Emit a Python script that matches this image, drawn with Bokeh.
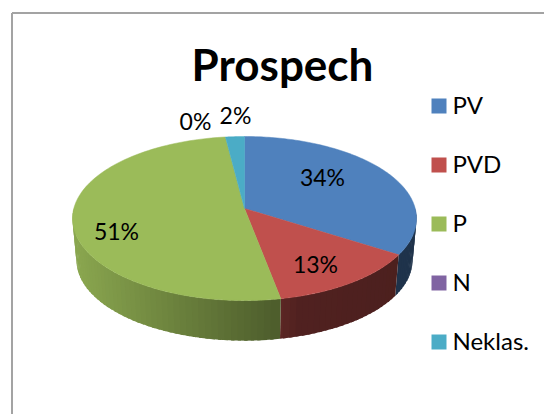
import numpy as np
from bokeh.plotting import figure
from bokeh.embed import file_html
from bokeh.resources import INLINE
from bokeh.core.properties import value as val

title = "Prospech"
categories = ["PV", "PVD", "P", "N", "Neklas."]
shares = [34, 13, 51, 0, 2]
colors = ["#4F81BD", "#C0504D", "#9BBB59", "#8064A2", "#4BACC6"]

LABEL_POS = [(322, 176), (315, 263), (116, 230.5), (195, 120), (235, 114.5)]
CX, CY = 244, 208          # pie apex in page pixels
A, B, K = 170.7, 80.8, 0.122   # perspective of the disc
DEPTH, SHRINK = 42, 0.977
LEG_X, LEG_Y0, LEG_DY = 438.5, 105.5, 59
FONT = "Lato"
W, H = 544, 414

def rim(deg):
    t = np.radians(deg)
    x, y = np.sin(t), -np.cos(t)
    w = 1 - K * y
    return CX + A * x / w, CY + B * y / w

def rim_low(deg):
    x, y = rim(deg)
    return CX + (x - CX) * SHRINK, y + DEPTH + (y - 218) * (SHRINK - 1)

def hexshade(col, f):
    r, g, b = (int(col[i:i + 2], 16) for i in (1, 3, 5))
    return "#%02x%02x%02x" % (int(r * f), int(g * f), int(b * f))

p = figure(width=W, height=H, x_range=(0, W), y_range=(H, 0),
           output_backend="svg", toolbar_location=None,
           background_fill_color="white", border_fill_color="white",
           min_border=0)
p.axis.visible = False
p.grid.visible = False
p.outline_line_color = None

# chart frame (runs off to the right and bottom)
p.line([11.5, 11.5], [H, 12.5], line_color="#a3a3a3", line_width=2)
p.line([11.5, W], [12.5, 12.5], line_color="#a3a3a3", line_width=2)

total = sum(shares)
edges = np.concatenate([[0], np.cumsum(shares)]) * 360.0 / total

# side wall, shaded strip by strip across the front half of the disc
for i, col in enumerate(colors):
    a0, a1 = max(edges[i], 90), min(edges[i + 1], 270)
    if a1 <= a0:
        continue
    steps = np.linspace(a0, a1, max(2, int((a1 - a0) / 2) + 2))
    # drawn from the far end back, each strip overlapping the one before it
    for s0, s1 in list(zip(steps[:-1], steps[1:]))[::-1]:
        e = min(s1 + 1.0, a1)
        x0, y0 = rim(s0); x1, y1 = rim(e)
        x2, y2 = rim_low(e); x3, y3 = rim_low(s0)
        f = np.interp((x0 + x1) / 2, [76, 278, 300, 400], [0.89, 0.50, 0.42, 0.40])
        c = hexshade(col, f)
        p.patch([x0, x1, x2, x3], [y0, y1, y2, y3], fill_color=c, line_color=None)

# top of the disc
for i, col in enumerate(colors):
    if shares[i] == 0:
        continue
    t = np.linspace(edges[i], edges[i + 1], 120)
    xs, ys = rim(t)
    p.patch(np.r_[CX, xs], np.r_[CY, ys], fill_color=col, line_color=col, line_width=0.5)

# percentage labels
p.text([q[0] for q in LABEL_POS], [q[1] for q in LABEL_POS], text=[f"{v}%" for v in shares],
       text_font=val(FONT), text_font_size="23px", text_color="#000000",
       text_align="center", text_baseline="middle")

# title
p.text([282], [63], text=[title], text_font=val(FONT), text_font_style="bold",
       text_font_size="44px", text_color="#000000", text_align="center", text_baseline="middle")

# legend
ly = [LEG_Y0 + LEG_DY * i for i in range(len(categories))]
p.scatter([LEG_X] * len(categories), ly, marker="square", size=15, fill_color=colors, line_color=None)
p.text([452] * len(categories), [y - 1.5 for y in ly], text=categories, text_font=val(FONT), text_font_size="24px",
       text_color="#000000", text_align="left", text_baseline="middle")

open("out.html", "w").write(file_html(p, INLINE))
